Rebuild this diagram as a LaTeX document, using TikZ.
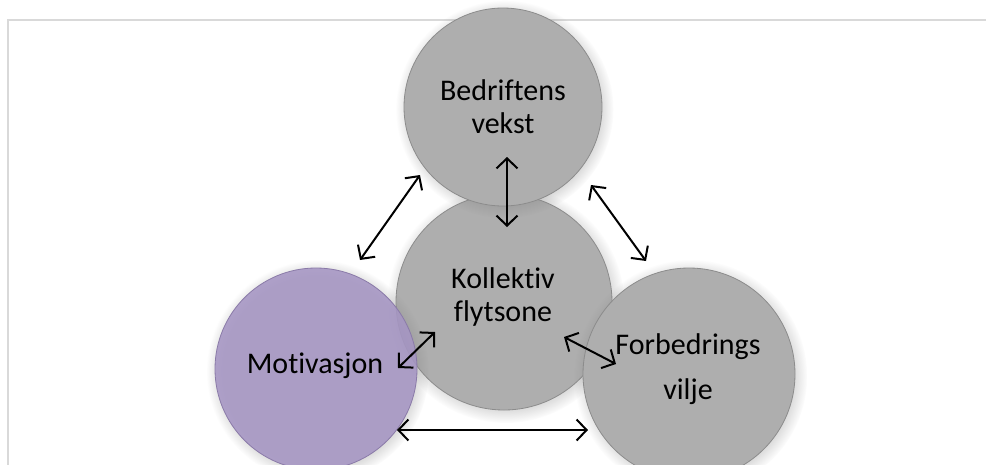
\documentclass[tikz,border=0pt]{standalone}
\usepackage{fontspec}
\setmainfont{Carlito}[Ligatures=NoCommon]
\usetikzlibrary{arrows.meta,shadows}
\definecolor{cgray}{HTML}{AEAEAE}
\definecolor{cedge}{HTML}{8C8C8C}
\definecolor{cpurple}{HTML}{A696C4}
\definecolor{cpedge}{HTML}{8A7AA8}
\definecolor{cframe}{HTML}{D9D9D9}
\begin{document}
\begin{tikzpicture}[x=1pt,y=-1pt,
  ball/.style={circle, inner sep=0pt, outer sep=0pt, fill=cgray, draw=cedge, line width=0.8pt,
    circular drop shadow={shadow xshift=1.5pt, shadow yshift=-2pt, opacity=0.35}},
  pball/.style={ball, fill=cpurple, draw=cpedge, fill opacity=0.88},
  lbl/.style={font=\fontsize{30}{33}\selectfont, align=center, inner sep=0pt, text=black},
  dbl/.style={{Straight Barb[length=10pt,width=21pt]}-{Straight Barb[length=10pt,width=21pt]}, line width=2pt, black}]
\useasboundingbox (0,0) rectangle (986,464);
\clip (0,0) rectangle (986,464);
\fill[white] (0,0) rectangle (986,464);
\draw[cframe, line width=1.3pt] (8,466) -- (8,20) -- (988,20);
% circles
\node[ball, minimum size=216pt] (kol) at (504,302) {};
\node[ball, minimum size=198pt] (bed) at (503,107) {};
\node[ball, minimum size=212pt] (for) at (689,374) {};
\node[pball, minimum size=202pt] (mot) at (316,369) {};
% labels
\node[lbl] (tbed) at (503,107) {Bedriftens\\vekst};
\node[lbl] (tkol) at (503,297) {Kollektiv\\flytsone};
\node[lbl] (tmot) at (315,366) {Motivasjon};
\node[lbl] (tfor1) at (688,347) {Forbedrings};
\node[lbl] (tfor2) at (688,392) {vilje};
% arrow end points
\coordinate (a1s) at (360,260); \coordinate (a1e) at (420,175);
\coordinate (a2s) at (507,157); \coordinate (a2e) at (507,227);
\coordinate (a3s) at (591,185); \coordinate (a3e) at (646,261);
\coordinate (a4s) at (398,368); \coordinate (a4e) at (435,332);
\coordinate (a5s) at (564,337); \coordinate (a5e) at (616,364);
\coordinate (a6s) at (397,430); \coordinate (a6e) at (588,430);
\draw[dbl] (a1s) -- (a1e);
\draw[dbl] (a2s) -- (a2e);
\draw[dbl] (a3s) -- (a3e);
\draw[dbl] (a4s) -- (a4e);
\draw[dbl] (a5s) -- (a5e);
\draw[dbl] (a6s) -- (a6e);
\end{tikzpicture}
\end{document}
